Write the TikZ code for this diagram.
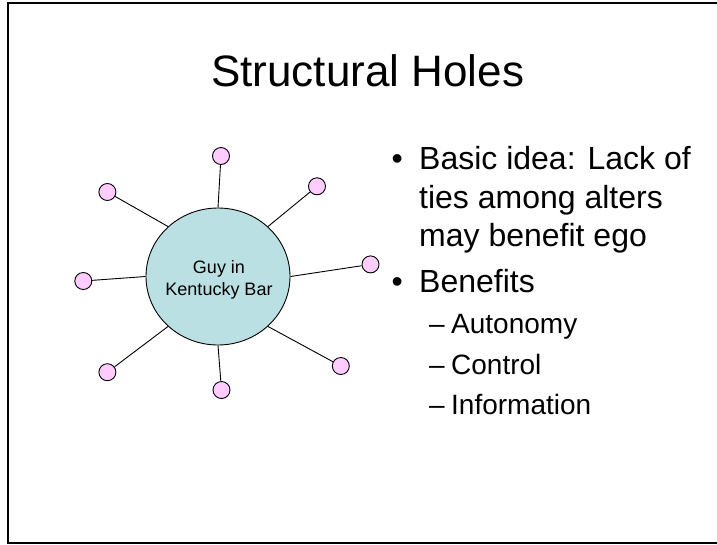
\documentclass[tikz,border=0pt]{standalone}
\usepackage{fontspec}
\setmainfont{Liberation Sans}
\usetikzlibrary{shapes.geometric}
\definecolor{egofill}{HTML}{BBE0E3}
\definecolor{altfill}{HTML}{FFCCFF}
\begin{document}
\begin{tikzpicture}[x=1pt,y=-1pt,
  egostyle/.style={ellipse, draw=black, line width=0.9pt, fill=egofill, minimum width=144pt, minimum height=137pt, inner sep=0pt},
  alter/.style={circle, draw=black, line width=0.9pt, fill=altfill, minimum size=17pt, inner sep=0pt},
  tie/.style={draw=black, line width=0.9pt},
  egotext/.style={font=\fontsize{18}{21.6}\selectfont, anchor=base, inner sep=0pt},
  titletext/.style={font=\fontsize{44}{52.8}\selectfont, anchor=base, inner sep=0pt},
  lvlone/.style={font=\fontsize{32}{38.4}\selectfont, anchor=base west, inner sep=0pt},
  lvltwo/.style={font=\fontsize{28}{33.6}\selectfont, anchor=base west, inner sep=0pt},
]
\useasboundingbox (0,0) rectangle (717,544);
\draw[line width=2pt] (7.7,3.3) rectangle (722,543.2);

\node[titletext] (title) at (367.6,86) {Structural Holes};

\node[egostyle] (ego) at (218,276.5) {};
\node[egotext] (guy) at (219,273.3) {Guy in};
\node[egotext] (kent) at (219,295.3) {Kentucky Bar};

\node[alter] (a1) at (221,156) {};
\node[alter] (a2) at (317,186.3) {};
\node[alter] (a3) at (370.5,264.4) {};
\node[alter] (a4) at (340.8,366) {};
\node[alter] (a5) at (221.5,390) {};
\node[alter] (a6) at (107.4,372.2) {};
\node[alter] (a7) at (83.3,281) {};
\node[alter] (a8) at (107.4,192) {};

\draw[tie] (ego.90) -- (a1);
\draw[tie] (ego.45) -- (a2);
\draw[tie] (ego.0) -- (a3);
\draw[tie] (ego.315) -- (a4);
\draw[tie] (ego.270) -- (a5);
\draw[tie] (ego.225) -- (a6);
\draw[tie] (ego.180) -- (a7);
\draw[tie] (ego.135) -- (a8);

\node[lvlone] (b1) at (391.4,169) {•};
\node[lvlone] (t1) at (419,169) {Basic idea: Lack of};
\node[lvlone] (t2) at (419,208) {ties among alters};
\node[lvlone] (t3) at (419,246) {may benefit ego};
\node[lvlone] (b2) at (391.4,292.4) {•};
\node[lvlone] (t4) at (419,292.4) {Benefits};
\node[lvltwo] (d1) at (429,333.7) {–};
\node[lvltwo] (s1) at (451,333.7) {Autonomy};
\node[lvltwo] (d2) at (429,374.7) {–};
\node[lvltwo] (s2) at (451,374.7) {Control};
\node[lvltwo] (d3) at (429,414.5) {–};
\node[lvltwo] (s3) at (451,414.5) {Information};
\end{tikzpicture}
\end{document}
